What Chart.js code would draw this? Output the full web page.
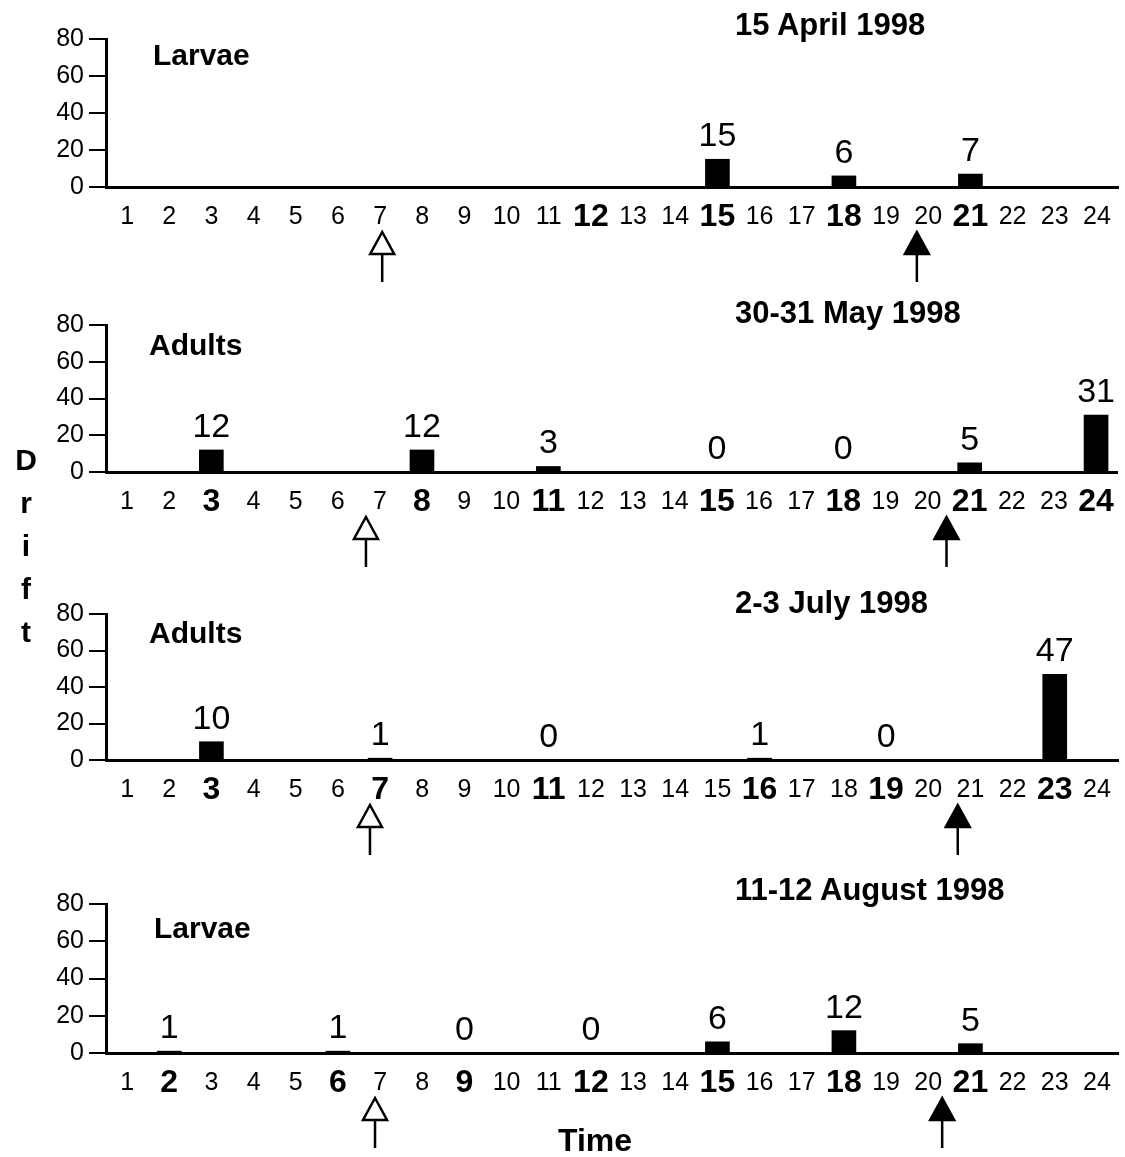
<!DOCTYPE html>
<html>
<head>
<meta charset="utf-8">
<script src="https://cdn.jsdelivr.net/npm/chart.js@4.4.1/dist/chart.umd.min.js"></script>
<style>
html,body{margin:0;padding:0;background:#fff;}
body{width:1125px;height:1157px;position:relative;overflow:hidden;font-family:"Liberation Sans",Arial,Helvetica,sans-serif;}
canvas.pc{position:absolute;left:0;}
.t{position:absolute;font-weight:bold;color:#000;white-space:nowrap;z-index:2;}
.title{font-size:31px;line-height:30px;left:735px;}
.grp{font-size:30px;line-height:30px;}
#drift{left:6px;width:40px;text-align:center;top:438px;font-size:30px;line-height:43px;}
#time{left:558px;top:1124px;font-size:32px;line-height:32px;}
</style>
</head>
<body>
<canvas id="c0" class="pc"></canvas>
<canvas id="c1" class="pc"></canvas>
<canvas id="c2" class="pc"></canvas>
<canvas id="c3" class="pc"></canvas>

<div class="t title" style="top:10px;">15 April 1998</div>
<div class="t title" style="top:298px;">30-31 May 1998</div>
<div class="t title" style="top:588px;">2-3 July 1998</div>
<div class="t title" style="top:875px;">11-12 August 1998</div>

<div class="t grp" style="left:153px;top:40px;">Larvae</div>
<div class="t grp" style="left:149px;top:330px;">Adults</div>
<div class="t grp" style="left:149px;top:618px;">Adults</div>
<div class="t grp" style="left:154px;top:913px;">Larvae</div>

<div class="t" id="drift">D<br>r<br>i<br>f<br>t</div>
<div class="t" id="time">Time</div>

<script>
// ---- Data ----
const hourLabels = ['1','2','3','4','5','6','7','8','9','10','11','12','13','14','15','16','17','18','19','20','21','22','23','24'];
const yTicks = [0, 20, 40, 60, 80];

const aprilHours = [15, 18, 21];
const aprilDrift = [15, 6, 7];
const aprilBold  = [12, 15, 18, 21];

const mayHours = [3, 8, 11, 15, 18, 21, 24];
const mayDrift = [12, 12, 3, 0, 0, 5, 31];
const mayBold  = [3, 8, 11, 15, 18, 21, 24];

const julyHours = [3, 7, 11, 16, 19, 23];
const julyDrift = [10, 1, 0, 1, 0, 47];
const julyBold  = [3, 7, 11, 16, 19, 23];

const augHours = [2, 6, 9, 12, 15, 18, 21];
const augDrift = [1, 1, 0, 0, 6, 12, 5];
const augBold  = [2, 6, 9, 12, 15, 18, 21];

// arrow positions (hour of day): open and filled markers
const openArrowHours   = [7.05, 6.67, 6.76, 6.88];
const filledArrowHours = [19.73, 20.45, 20.7, 20.33];

// ---- Layout (pixels) ----
const FONT = '"Liberation Sans", Arial, Helvetica, sans-serif';
const panelLayout = [
  {top: 0,   h: 290, y80: 39,  y0: 187},
  {top: 290, h: 290, y80: 325, y0: 472},
  {top: 580, h: 290, y80: 614, y0: 760},
  {top: 870, h: 287, y80: 904, y0: 1053}
];

const valueLabelPlugin = {
  id: 'valueLabels',
  afterDatasetsDraw(chart) {
    const ctx = chart.ctx;
    const meta = chart.getDatasetMeta(0);
    const vals = chart.data.datasets[0].data;
    ctx.save();
    ctx.fillStyle = '#000';
    ctx.font = '34px ' + FONT;
    ctx.textAlign = 'center';
    ctx.textBaseline = 'alphabetic';
    meta.data.forEach((bar, i) => {
      const v = vals[i];
      if (v === null || v === undefined) return;
      ctx.fillText(String(v), bar.x, bar.y - 13);
    });
    ctx.restore();
  }
};

function drawArrow(ctx, x, top, filled) {
  const hw = 12, hh = 22, len = 50;
  ctx.save();
  ctx.strokeStyle = '#000';
  ctx.lineWidth = 2.5;
  ctx.beginPath();
  ctx.moveTo(x, top + hh);
  ctx.lineTo(x, top + len);
  ctx.stroke();
  ctx.beginPath();
  ctx.moveTo(x, top);
  ctx.lineTo(x + hw, top + hh);
  ctx.lineTo(x - hw, top + hh);
  ctx.closePath();
  ctx.lineJoin = 'miter';
  ctx.fillStyle = filled ? '#000' : '#fff';
  ctx.fill();
  ctx.stroke();
  ctx.restore();
}

const arrowPlugin = {
  id: 'arrows',
  afterDraw(chart, args, opts) {
    const xs = chart.scales.x;
    const base = chart.scales.y.getPixelForValue(0);
    drawArrow(chart.ctx, xs.getPixelForValue(opts.open - 1), base + 45, false);
    drawArrow(chart.ctx, xs.getPixelForValue(opts.filled - 1), base + 45, true);
  }
};

function makePanel(i, hours, drift, bold) {
  const L = panelLayout[i];
  const canvas = document.getElementById('c' + i);
  canvas.width = 1125;
  canvas.height = L.h;
  canvas.style.width = '1125px';
  canvas.style.height = L.h + 'px';
  canvas.style.top = L.top + 'px';
  const xAxisH = 45;
  const data = hourLabels.map(h => {
    const k = hours.indexOf(Number(h));
    return k >= 0 ? drift[k] : null;
  });
  new Chart(canvas, {
    type: 'bar',
    data: {
      labels: hourLabels,
      datasets: [{ data: data, backgroundColor: '#000', borderWidth: 0, barThickness: 24 }]
    },
    options: {
      responsive: false,
      animation: false,
      layout: { padding: { top: L.y80 - L.top, right: 7, left: 0, bottom: L.h - (L.y0 - L.top) - xAxisH } },
      plugins: {
        legend: { display: false },
        tooltip: { enabled: false },
        title: { display: false },
        arrows: { open: openArrowHours[i], filled: filledArrowHours[i] }
      },
      scales: {
        x: {
          type: 'category',
          offset: true,
          grid: { display: false, drawTicks: false },
          border: { display: true, color: '#000', width: 3 },
          ticks: {
            color: '#000',
            padding: 11,
            autoSkip: false,
            maxRotation: 0,
            font: (ctx) => bold.includes(Number(hourLabels[ctx.index]))
              ? { family: FONT, size: 32, weight: 'bold', lineHeight: 1.2 }
              : { family: FONT, size: 25, weight: 'normal', lineHeight: 1.536 }
          },
          afterFit: (s) => { s.height = xAxisH; }
        },
        y: {
          min: 0,
          max: 80,
          afterBuildTicks: (s) => { s.ticks = yTicks.map(v => ({ value: v })); },
          grid: { drawOnChartArea: false, drawTicks: true, tickLength: 17, color: '#000', lineWidth: 2 },
          border: { display: true, color: '#000', width: 3 },
          ticks: { color: '#000', padding: 5, font: { family: FONT, size: 25 } },
          afterFit: (s) => { s.width = 106; }
        }
      }
    },
    plugins: [valueLabelPlugin, arrowPlugin]
  });
}

makePanel(0, aprilHours, aprilDrift, aprilBold);
makePanel(1, mayHours, mayDrift, mayBold);
makePanel(2, julyHours, julyDrift, julyBold);
makePanel(3, augHours, augDrift, augBold);
</script>
</body>
</html>
